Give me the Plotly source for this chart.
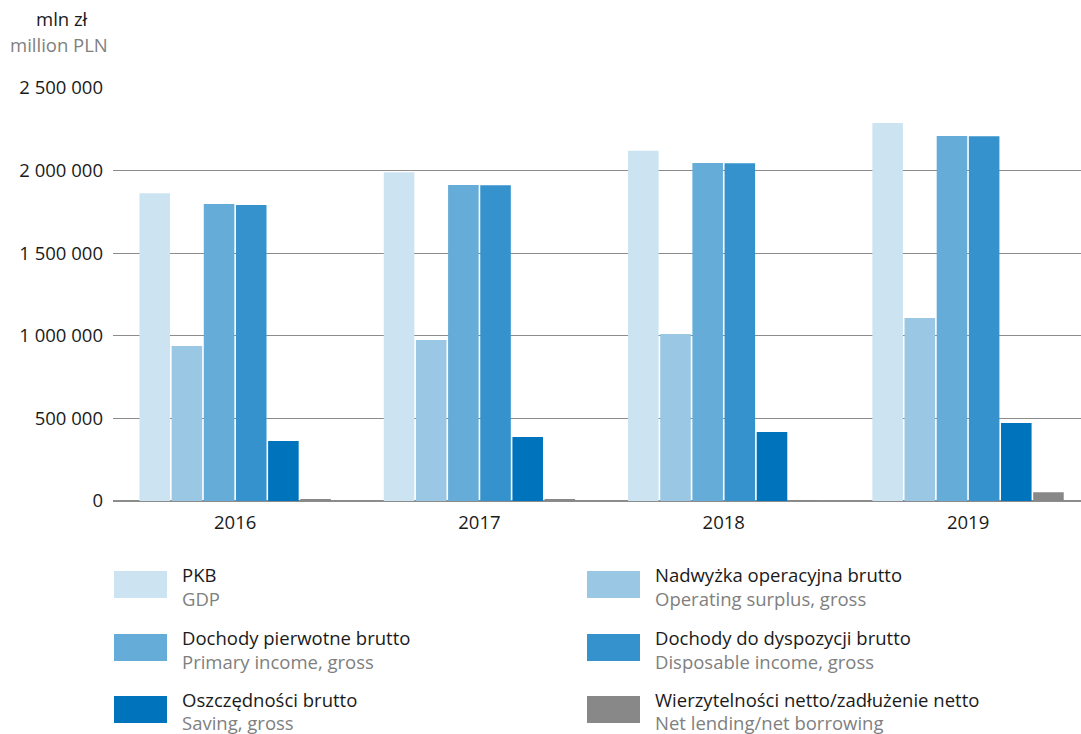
import plotly.graph_objects as go

years = ["2016", "2017", "2018", "2019"]
series_pl = ["PKB", "Nadwyżka operacyjna brutto", "Dochody pierwotne brutto",
             "Dochody do dyspozycji brutto", "Oszczędności brutto",
             "Wierzytelności netto/zadłużenie netto"]
series_en = ["GDP", "Operating surplus, gross", "Primary income, gross",
             "Disposable income, gross", "Saving, gross", "Net lending/net borrowing"]
colors = ["#cce3f1", "#9ac7e4", "#66acd8", "#3592cc", "#0073bd", "#888888"]

gdp = [1863487, 1989314, 2120480, 2287722]
operating_surplus = [938000, 975000, 1011000, 1108000]
primary_income = [1798000, 1913000, 2046000, 2209000]
disposable_income = [1792000, 1912000, 2045000, 2208000]
saving = [363000, 387000, 418000, 472000]
net_lending = [11000, 11000, 5000, 53000]
values = [gdp, operating_surplus, primary_income, disposable_income, saving, net_lending]

W, H = 1081, 734
ML, MR, MT, MB = 113, 0, 88, 233
FONT = "Open Sans"
FS = 18.5

fig = go.Figure()
for name, vals, col in zip(series_pl, values, colors):
    fig.add_trace(go.Bar(x=years, y=vals, name=name, marker_color=col,
                         marker_line_width=0, showlegend=False))

pw = W - ML - MR
ph = H - MT - MB
def px_x(x):
    return (x - ML) / pw
def px_y(y):
    return (H - MB - y) / ph

cat_px = 244.3
fig.update_layout(
    width=W, height=H,
    margin=dict(l=ML, r=MR, t=MT, b=MB),
    plot_bgcolor="white", paper_bgcolor="white",
    barmode="group", bargap=0.21, bargroupgap=0.05,
    separators=", ",
    font=dict(family=FONT, size=FS, color="#1a1a1a"),
    xaxis=dict(type="category", range=[-0.5, -0.5 + pw / cat_px], showgrid=False,
               ticks="", showline=False, tickfont=dict(size=FS, color="#1a1a1a"),
               ticklabelstandoff=8),
    yaxis=dict(range=[0, 2500000], tickvals=[0, 500000, 1000000, 1500000, 2000000, 2500000],
               tickformat=",d", showgrid=True, gridcolor="#8c8c8c", gridwidth=1,
               zeroline=True, zerolinecolor="#8c8c8c", zerolinewidth=2,
               ticks="", ticklabelstandoff=9, tickfont=dict(size=FS, color="#1a1a1a")),
)

annotations = [
    dict(x=px_x(34), y=px_y(18), xref="paper", yref="paper", xanchor="left", yanchor="middle",
         text="mln zł", showarrow=False, font=dict(size=FS, color="#1a1a1a", family=FONT)),
    dict(x=px_x(8), y=px_y(44), xref="paper", yref="paper", xanchor="left", yanchor="middle",
         text="million PLN", showarrow=False, font=dict(size=FS, color="#808080", family=FONT)),
]
shapes = []
col_x = [(114, 180), (587, 653)]
row_y = [571, 634, 696]
for i, (pl, en, col) in enumerate(zip(series_pl, series_en, colors)):
    c = i % 2
    r = i // 2
    sx, tx = col_x[c]
    sy = row_y[r]
    shapes.append(dict(type="rect", xref="paper", yref="paper",
                       x0=px_x(sx), x1=px_x(sx + 53), y0=px_y(sy), y1=px_y(sy + 27),
                       fillcolor=col, line_width=0))
    annotations.append(dict(x=px_x(tx), y=px_y(sy + 3), xref="paper", yref="paper",
                            xanchor="left", yanchor="middle", text=pl, showarrow=False,
                            font=dict(size=FS, color="#1a1a1a", family=FONT)))
    annotations.append(dict(x=px_x(tx), y=px_y(sy + 27), xref="paper", yref="paper",
                            xanchor="left", yanchor="middle", text=en, showarrow=False,
                            font=dict(size=FS, color="#808080", family=FONT)))
fig.update_layout(annotations=annotations, shapes=shapes)

fig.write_html("out.html", config={"displayModeBar": False},
               post_script="document.body.style.margin='0';")
